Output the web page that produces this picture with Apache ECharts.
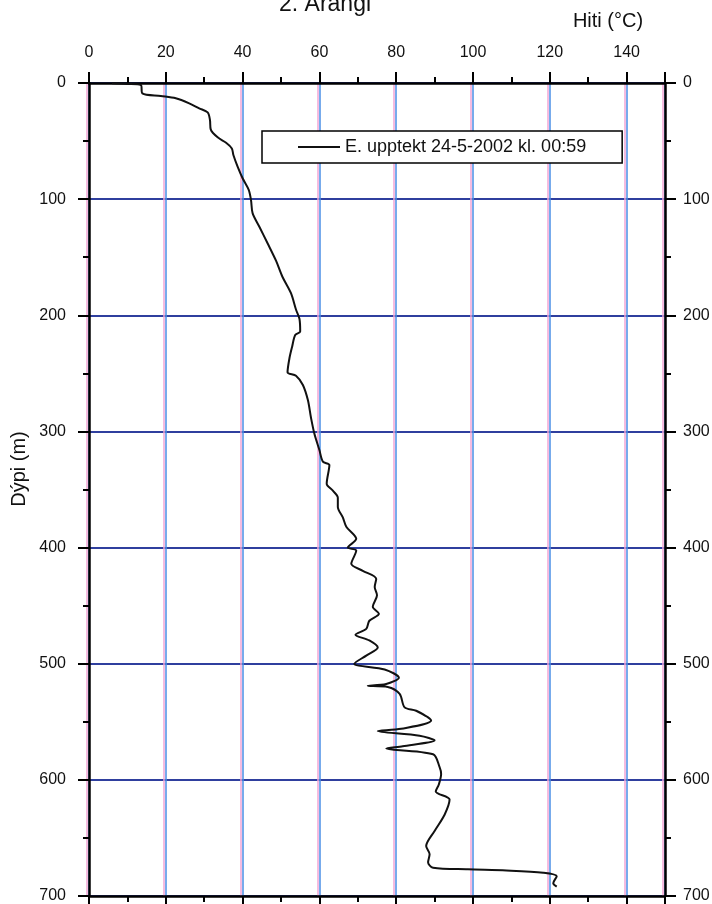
<!DOCTYPE html>
<html>
<head>
<meta charset="utf-8">
<script src="https://cdn.jsdelivr.net/npm/echarts@6/dist/echarts.min.js"></script>
<style>
html,body{margin:0;padding:0;background:#fff;}
#c{width:712px;height:904px;}
</style>
</head>
<body>
<div id="c"></div>
<script>
const temperature = [6,10,13.5,13.9,18.7,22.6,26.1,28.7,30.9,31.5,31.7,33.5,35.7,37.2,37.6,38.7,40,41.6,42.2,42.6,44.4,46.5,48.7,50.4,52.6,53.9,54.8,55,53.7,52.9,52.2,51.7,53.9,55.7,57,57.8,58.7,60,60.9,62.6,61.9,63.5,64.8,64.8,66.1,67,69.6,67.4,69.6,68.3,71.3,74.8,74.4,75,73.9,75.5,73,72.2,69.4,73,75.2,72.2,69.1,77,80.7,77.4,72.6,77.8,80.9,82.2,85.2,89.1,81.3,75.2,86.1,90,81.7,77.4,89.6,91.3,91.7,91.1,90.3,93.9,92.6,90,87.8,88.7,88.3,89.6,98.7,108.7,118.3,121.8,120.9,121.8];
const depth = [0.3,0.8,1.7,8.9,11.2,13.2,17.5,21.8,25.3,31.9,39.9,46.8,51.4,56.3,62,72,82,92,101,112,124,138,153,167,181,195,203,214,217,227,237,249,252,260,273,288,302,316,326,329,345,351,357,365,374,382,392.5,400,402.6,414,420,427,434,441,451,457,463,470,475,480,486,493,500,505,512,517.5,519,520,526,537.6,540.5,549,556,558,562,566,571,573,578,589,595,604,610,617,630,644,657,664,671,675.6,677,678,680,683,689,692];
const seriesName = 'E. upptekt 24-5-2002 kl. 00:59';
const titleText = '2. Arangi';
const xName = 'Hiti (°C)';
const yName = 'Dýpi (m)';
const xRange = [0, 150];
const yRange = [0, 700];

const FONT = 'Liberation Sans, Arial, sans-serif';
const pairs = temperature.map((t, i) => [t, depth[i]]);

const axisLineStyle = {color: '#000', width: 2.5};
const chart = echarts.init(document.getElementById('c'), null, {renderer: 'canvas'});
chart.setOption({
  animation: false,
  backgroundColor: '#fff',
  textStyle: {fontFamily: FONT},
  grid: {left: 89, right: 47, top: 83, bottom: 8, containLabel: false, outerBoundsMode: 'none'},
  graphic: [
    {type: 'text', x: 325, y: 16,
     style: {text: titleText, font: '23px ' + FONT, fill: '#111', textAlign: 'center', textVerticalAlign: 'bottom'}},
    {type: 'text', x: 608, y: 21,
     style: {text: xName, font: '20px ' + FONT, fill: '#111', textAlign: 'center', textVerticalAlign: 'middle'}},
    {type: 'text', x: 19, y: 469, rotation: Math.PI / 2,
     style: {text: yName, font: '20px ' + FONT, fill: '#111', textAlign: 'center', textVerticalAlign: 'middle'}}
  ],
  legend: {
    left: 262, top: 131,
    orient: 'horizontal',
    padding: [7, 36, 7, 36],
    icon: 'rect',
    itemWidth: 42, itemHeight: 2, itemGap: 5,
    borderColor: '#000', borderWidth: 1.5,
    backgroundColor: '#fff',
    textStyle: {fontSize: 18, color: '#111', fontFamily: FONT},
    data: [seriesName]
  },
  xAxis: [
    {type: 'value', position: 'top', min: xRange[0], max: xRange[1], interval: 20,
     axisLine: {show: true, onZero: false, lineStyle: axisLineStyle},
     axisTick: {show: true, inside: false, length: 11, lineStyle: {color: '#000', width: 2}},
     minorTick: {show: true, splitNumber: 2, length: 6, lineStyle: {color: '#000', width: 2}},
     axisLabel: {show: true, margin: 22, fontSize: 16, color: '#111', showMaxLabel: false},
     splitLine: {show: true, lineStyle: {color: '#4a8fe6', width: 1.5, shadowColor: '#f2a6d6', shadowOffsetX: -2, shadowBlur: 0}}
    },
    {type: 'value', position: 'bottom', min: xRange[0], max: xRange[1], interval: 20,
     axisLine: {show: true, onZero: false, lineStyle: axisLineStyle},
     axisTick: {show: true, inside: false, length: 11, lineStyle: {color: '#000', width: 2}},
     minorTick: {show: true, splitNumber: 2, length: 6, lineStyle: {color: '#000', width: 2}},
     axisLabel: {show: false},
     splitLine: {show: false}
    }
  ],
  yAxis: [
    {type: 'value', position: 'left', inverse: true, min: yRange[0], max: yRange[1], interval: 100,
     axisLine: {show: true, onZero: false, lineStyle: axisLineStyle},
     axisTick: {show: true, inside: false, length: 11, lineStyle: {color: '#000', width: 2}},
     minorTick: {show: true, splitNumber: 2, length: 6, lineStyle: {color: '#000', width: 2}},
     axisLabel: {show: true, margin: 23, fontSize: 16, color: '#111'},
     splitLine: {show: true, lineStyle: {color: '#2f3f9e', width: 2}}
    },
    {type: 'value', position: 'right', inverse: true, min: yRange[0], max: yRange[1], interval: 100,
     axisLine: {show: true, onZero: false, lineStyle: axisLineStyle},
     axisTick: {show: true, inside: false, length: 11, lineStyle: {color: '#000', width: 2}},
     minorTick: {show: true, splitNumber: 2, length: 6, lineStyle: {color: '#000', width: 2}},
     axisLabel: {show: true, margin: 18, fontSize: 16, color: '#111'},
     splitLine: {show: false}
    }
  ],
  series: [
    {name: seriesName, type: 'line', xAxisIndex: 0, yAxisIndex: 0,
     data: pairs, symbol: 'none', smooth: 0.3,
     lineStyle: {color: '#111', width: 2},
     itemStyle: {color: '#111'}
    }
  ]
});
</script>
</body>
</html>
